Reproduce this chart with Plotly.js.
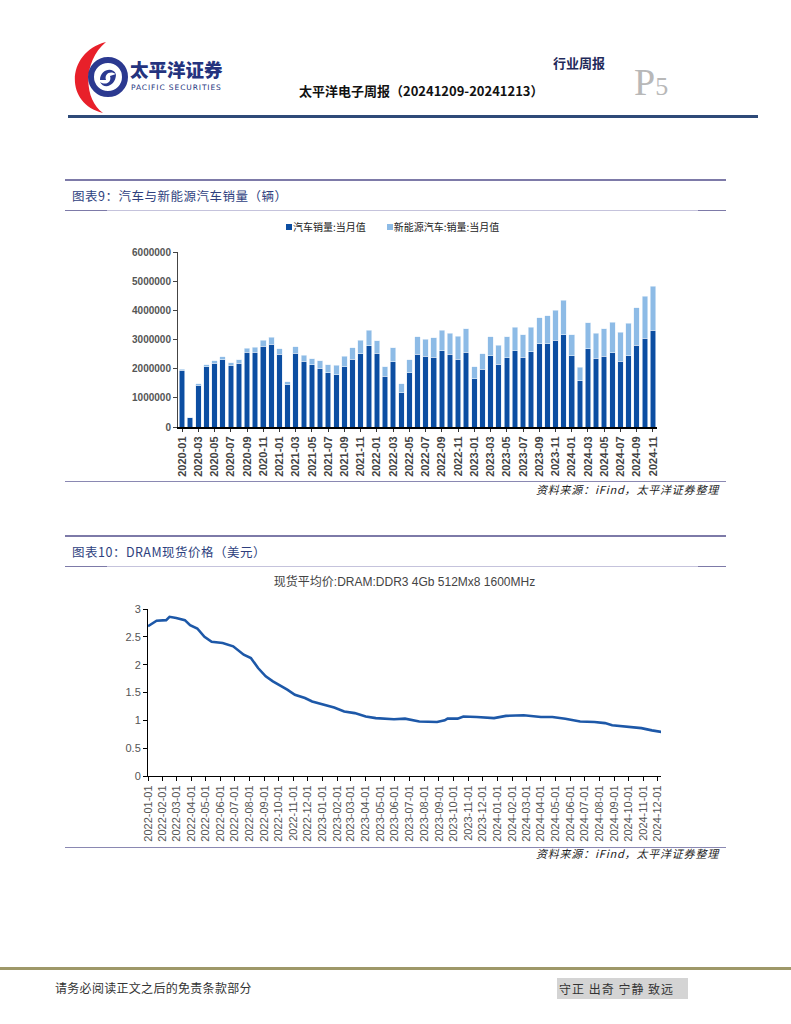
<!DOCTYPE html>
<html><head><meta charset="utf-8">
<script src="https://cdn.plot.ly/plotly-3.0.1.min.js"></script>
<style>
body{margin:0;background:#fff;}
#page{position:relative;width:791px;height:1024px;overflow:hidden;background:#fff;font-family:"Noto Sans CJK SC","Noto Sans",sans-serif;}
.abs{position:absolute;white-space:nowrap;}
.hl{position:absolute;height:0;}
.sq{display:inline-block;width:6px;height:6px;margin-right:1px;vertical-align:1px;}
</style></head><body>
<div id="page">
  <svg class="abs" style="left:70px;top:38px" width="60" height="80" viewBox="70 38 60 80">
    <path d="M106 42 C 66 52, 64 104, 103 113 C 84 100, 82 62, 106 42 Z" fill="#e8202a"/>
    <circle cx="108" cy="77" r="17" fill="none" stroke="#2b3990" stroke-width="6"/>
    <path d="M100 80 C 100 70, 112 66, 116 74 C 110 70, 104 74, 106 80 Z" fill="#2b3990"/>
    <path d="M116 74 C 116 86, 104 90, 100 82 C 106 86, 112 82, 110 76 Z" fill="#2b3990"/>
  </svg>
  <div class="abs" style="left:130px;top:60px;font-size:18.5px;line-height:18px;font-weight:900;color:#24337e;">太平洋证券</div>
  <div class="abs" style="left:131px;top:84px;font-size:7.5px;line-height:8px;color:#24337e;font-family:'DejaVu Sans',sans-serif;letter-spacing:0.9px;">PACIFIC SECURITIES</div>
  <div class="abs" style="left:553px;top:53px;font-size:13px;font-weight:700;color:#1f2a5a;">行业周报</div>
  <div class="abs" style="left:299px;top:81px;font-size:13px;font-weight:700;color:#111;">太平洋电子周报（20241209-20241213）</div>
  <div class="abs" style="left:634px;top:62px;font-size:38px;color:#b8b8b8;font-family:'Liberation Serif',serif;line-height:40px;">P<span style="font-size:26px;">5</span></div>
  <div class="hl" style="left:68px;top:115px;width:690px;border-top:3px solid #2e4a78;"></div>

  <div class="hl" style="left:65px;top:179px;width:661px;border-top:2px solid #7d7aa8;"></div>
  <div class="abs" style="left:72px;top:186px;font-size:12.5px;color:#2e3f7e;letter-spacing:0.5px;">图表9：汽车与新能源汽车销量（辆）</div>
  <div class="hl" style="left:65px;top:210px;width:661px;border-top:1px solid #c5c3dc;"></div>
  <div class="hl" style="left:65px;top:210px;width:42px;border-top:1px solid #7d7aa8;"></div>
  <div class="hl" style="left:698px;top:210px;width:28px;border-top:1px solid #7d7aa8;"></div>
  <div id="lg1" class="abs" style="left:286px;top:220px;font-size:10px;line-height:14px;color:#222;"></div>
  <div id="c1" class="abs" style="left:100px;top:214px;width:600px;height:266px;"></div>
  <div class="hl" style="left:65px;top:481px;width:661px;border-top:1px solid #8a88b2;"></div>
  <div class="abs" style="right:72px;top:481px;font-size:11px;font-style:italic;color:#222;letter-spacing:0.8px;">资料来源：iFind，太平洋证券整理</div>

  <div class="hl" style="left:65px;top:535px;width:661px;border-top:2px solid #7d7aa8;"></div>
  <div class="abs" style="left:72px;top:542px;font-size:12.5px;color:#2e3f7e;letter-spacing:0.5px;">图表10：DRAM现货价格（美元）</div>
  <div class="hl" style="left:65px;top:566px;width:661px;border-top:1px solid #c5c3dc;"></div>
  <div class="hl" style="left:65px;top:566px;width:42px;border-top:1px solid #7d7aa8;"></div>
  <div class="hl" style="left:698px;top:566px;width:28px;border-top:1px solid #7d7aa8;"></div>
  <div id="c2" class="abs" style="left:80px;top:570px;width:620px;height:278px;"></div>
  <div class="hl" style="left:65px;top:847px;width:661px;border-top:1px solid #8a88b2;"></div>
  <div class="abs" style="right:72px;top:845px;font-size:11px;font-style:italic;color:#222;letter-spacing:0.8px;">资料来源：iFind，太平洋证券整理</div>

  <div class="hl" style="left:0px;top:967px;width:791px;border-top:3px solid #9e9868;"></div>
  <div class="abs" style="left:55px;top:979px;font-size:12px;color:#333;letter-spacing:0.3px;">请务必阅读正文之后的免责条款部分</div>
  <div class="abs" style="left:557px;top:978px;width:129px;height:21px;background:#d4d4d4;font-size:12px;color:#333;line-height:21px;padding-left:2px;letter-spacing:1px;">守正 出奇 宁静 致远</div>
</div>
<script>
// ---- Chart 1 data ----
const years = [2020, 2021, 2022, 2023, 2024];
const months = [];
years.forEach(y => { for (let m = 1; m <= 12; m++) { if (y === 2024 && m > 11) break; months.push(y + '-' + String(m).padStart(2, '0')); } });
const carSales = [
  1940000, 310000, 1430000, 2070000, 2190000, 2300000, 2110000, 2190000, 2570000, 2570000, 2770000, 2830000,
  2500000, 1450000, 2530000, 2250000, 2130000, 2020000, 1860000, 1800000, 2070000, 2330000, 2520000, 2790000,
  2530000, 1740000, 2230000, 1180000, 1860000, 2500000, 2420000, 2390000, 2610000, 2500000, 2330000, 2560000,
  1650000, 1980000, 2450000, 2160000, 2380000, 2620000, 2390000, 2580000, 2850000, 2850000, 2970000, 3160000,
  2440000, 1580000, 2690000, 2360000, 2420000, 2550000, 2260000, 2450000, 2810000, 3050000, 3320000
];
const nevSales = [
  44000, 13000, 53000, 72000, 82000, 104000, 98000, 109000, 138000, 160000, 200000, 248000,
  179000, 110000, 226000, 206000, 217000, 256000, 271000, 321000, 357000, 383000, 450000, 531000,
  431000, 334000, 484000, 299000, 447000, 596000, 593000, 666000, 708000, 714000, 786000, 814000,
  408000, 525000, 653000, 636000, 717000, 806000, 780000, 846000, 904000, 956000, 1026000, 1191000,
  729000, 477000, 883000, 850000, 955000, 1049000, 991000, 1100000, 1287000, 1430000, 1512000
];
const series1Names = ['汽车销量:当月值', '新能源汽车:销量:当月值'];
const series1Colors = ['#0c4ea2', '#8dbbe6'];
const yTicks1 = [0, 1000000, 2000000, 3000000, 4000000, 5000000, 6000000];

// ---- Chart 2 data ----
const dramDates = [
  '2022-01-01','2022-01-19','2022-02-08','2022-02-15','2022-03-01','2022-03-19','2022-03-30','2022-04-14','2022-04-29','2022-05-14',
  '2022-06-06','2022-06-28','2022-07-20','2022-08-04','2022-08-19','2022-09-04','2022-09-19','2022-10-04','2022-10-19','2022-11-04',
  '2022-11-25','2022-12-10','2023-01-01','2023-01-25','2023-02-15','2023-03-09','2023-04-01','2023-04-22','2023-05-30','2023-06-22',
  '2023-07-22','2023-08-28','2023-09-13','2023-09-19','2023-10-10','2023-10-22','2023-11-19','2023-12-25','2024-01-19','2024-02-25',
  '2024-04-01','2024-04-25','2024-05-22','2024-06-22','2024-07-22','2024-08-13','2024-08-28','2024-09-28','2024-10-28','2024-11-19',
  '2024-12-09'
];
const dramPrice = [
  2.69, 2.79, 2.80, 2.86, 2.84, 2.80, 2.71, 2.65, 2.50, 2.41,
  2.39, 2.33, 2.18, 2.12, 1.94, 1.79, 1.70, 1.63, 1.55, 1.46,
  1.40, 1.34, 1.29, 1.23, 1.16, 1.13, 1.07, 1.04, 1.02, 1.03,
  0.98, 0.97, 1.00, 1.03, 1.03, 1.07, 1.06, 1.04, 1.08, 1.09,
  1.06, 1.06, 1.03, 0.98, 0.97, 0.95, 0.91, 0.89, 0.86, 0.82,
  0.79
];
const dramTitle = '现货平均价:DRAM:DDR3 4Gb 512Mx8 1600MHz';
const yTicks2 = [0, 0.5, 1, 1.5, 2, 2.5, 3];
const yTickText2 = ['0', '0.5', '1', '1.5', '2', '2.5', '3'];

// legend for chart 1 (html)
document.getElementById('lg1').innerHTML =
  '<span class="sq" style="background:' + series1Colors[0] + '"></span>' + series1Names[0] +
  '<span style="display:inline-block;width:21px"></span>' +
  '<span class="sq" style="background:' + series1Colors[1] + '"></span>' + series1Names[1];

// ---- Chart 1 ----
Plotly.newPlot('c1', [
  {type: 'bar', name: series1Names[0], x: months, y: carSales,
   marker: {color: series1Colors[0], line: {color: '#dfe9f6', width: 0.6}}},
  {type: 'bar', name: series1Names[1], x: months, y: nevSales,
   marker: {color: series1Colors[1], line: {color: '#e6f0fa', width: 0.6}}}
], {
  barmode: 'stack', bargap: 0.32,
  width: 600, height: 266,
  margin: {l: 78, r: 43, t: 38, b: 53},
  paper_bgcolor: 'rgba(0,0,0,0)', plot_bgcolor: 'rgba(0,0,0,0)',
  showlegend: false,
  font: {family: 'Liberation Sans, Arial, sans-serif'},
  xaxis: {type: 'category', tickmode: 'array',
          tickvals: months.filter((m, i) => i % 2 === 0),
          ticktext: months.filter((m, i) => i % 2 === 0),
          tickangle: -90, tickfont: {size: 11, color: '#444', family: 'Liberation Sans, Arial, sans-serif', weight: 'bold'},
          showline: true, linecolor: '#000', linewidth: 2, ticks: 'outside', ticklen: 3, tickcolor: '#333',
          showgrid: false, zeroline: false, range: [-0.5, months.length - 0.5], fixedrange: true},
  yaxis: {range: [0, 6000000], tickvals: yTicks1, ticktext: yTicks1.map(v => String(v)),
          tickfont: {size: 10, color: '#555', family: 'Liberation Sans, Arial, sans-serif', weight: 'bold'},
          showline: true, linecolor: '#444', linewidth: 1, ticks: 'outside', ticklen: 4, tickcolor: '#444',
          showgrid: false, zeroline: false, fixedrange: true}
}, {displayModeBar: false, staticPlot: true});

// ---- Chart 2 ----
const tickDates = [];
for (let y = 2022; y <= 2024; y++) for (let m = 1; m <= 12; m++) tickDates.push(y + '-' + String(m).padStart(2, '0') + '-01');
Plotly.newPlot('c2', [
  {type: 'scatter', mode: 'lines', x: dramDates, y: dramPrice,
   line: {color: '#1d58a8', width: 2.6, shape: 'linear'}, hoverinfo: 'skip'}
], {
  width: 620, height: 278,
  margin: {l: 68, r: 39, t: 39, b: 72},
  paper_bgcolor: 'rgba(0,0,0,0)', plot_bgcolor: 'rgba(0,0,0,0)',
  showlegend: false,
  title: {text: dramTitle, x: 0.5, xref: 'paper', y: 1, yref: 'container', yanchor: 'top', pad: {t: 8},
          font: {size: 12, color: '#444', family: 'Liberation Sans, Arial, Noto Sans CJK SC, sans-serif'}},
  xaxis: {type: 'date', tickmode: 'array', tickvals: tickDates, ticktext: tickDates,
          range: ['2022-01-01', '2024-12-08'],
          tickangle: -90, tickfont: {size: 11, color: '#555', family: 'Liberation Sans, Arial, sans-serif'},
          showline: true, linecolor: '#000', linewidth: 1, ticks: 'outside', ticklen: 4, tickcolor: '#000',
          showgrid: false, zeroline: false, fixedrange: true},
  yaxis: {range: [0, 3], tickvals: yTicks2, ticktext: yTickText2,
          tickfont: {size: 11, color: '#555', family: 'Liberation Sans, Arial, sans-serif'},
          showline: true, linecolor: '#000', linewidth: 1, ticks: 'outside', ticklen: 4, tickcolor: '#000',
          showgrid: false, zeroline: false, fixedrange: true}
}, {displayModeBar: false, staticPlot: true});
</script>
</body></html>
